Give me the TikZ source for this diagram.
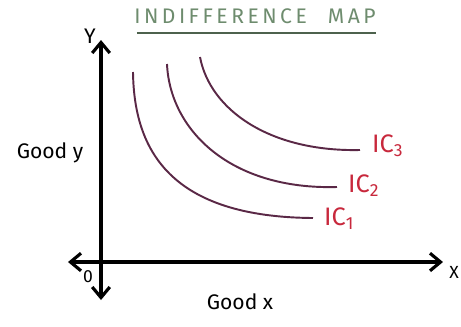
\documentclass[tikz,border=0pt]{standalone}
\usepackage{fontspec}
\setmainfont{Fira Sans}
\usetikzlibrary{arrows.meta}
\definecolor{inkred}{RGB}{200,40,60}
\definecolor{inkcurve}{RGB}{90,40,70}
\definecolor{inktitle}{RGB}{110,140,110}
\tikzset{
  axis/.style={line width=1.8pt, {Straight Barb[length=6pt,width=10pt]}-{Straight Barb[length=6pt,width=10pt]}},
  iccurve/.style={line width=1.1pt, inkcurve},
  iclabel/.style={text=inkred, font=\Large},
  axlabel/.style={font=\large}
}
\begin{document}
\begin{tikzpicture}[x=0.02cm, y=-0.02cm]
  \useasboundingbox (0,0) rectangle (461,326);
  \fill[white] (0,0) rectangle (461,326);

  % Title
  \node[text=inktitle, font=\large] (title) at (255,16) {I\,N\,D\,I\,F\,F\,E\,R\,E\,N\,C\,E\quad M\,A\,P};
  \coordinate (tl) at (137,33);
  \coordinate (tr) at (376,33);
  \draw[inktitle!70!black, line width=0.9pt] (tl) -- (tr);

  % Axes
  \coordinate (O) at (101,262);
  \coordinate (ytop) at (101,40);
  \coordinate (ybot) at (101,300);
  \coordinate (xleft) at (68,262);
  \coordinate (xright) at (443,262);
  \draw[axis] (ybot) -- (ytop);
  \draw[axis] (xleft) -- (xright);
  \node[axlabel] (ylab) at (90,36) {Y};
  \node[inner sep=0pt] (xlab) at (454,272) {X};
  \node (zero) at (88,277) {0};
  \node[axlabel] (goodx) at (240,302) {Good x};
  \node[axlabel] (goody) at (50,153) {Good y};

  % Indifference curves
  \coordinate (a1) at (133,72);
  \coordinate (b1) at (313,218);
  \draw[iccurve] (a1) .. controls (134,150) and (170,217) .. (b1);
  \coordinate (a2) at (167,64);
  \coordinate (b2) at (337,187);
  \draw[iccurve] (a2) .. controls (170,130) and (230,190) .. (b2);
  \coordinate (a3) at (200,57);
  \coordinate (b3) at (360,150);
  \draw[iccurve] (a3) .. controls (210,110) and (270,152) .. (b3);

  % Labels
  \node[iclabel, anchor=west] (ic1) at (318,219) {IC\textsubscript{1}};
  \node[iclabel, anchor=west] (ic2) at (342,186) {IC\textsubscript{2}};
  \node[iclabel, anchor=west] (ic3) at (366,146) {IC\textsubscript{3}};
\end{tikzpicture}
\end{document}
